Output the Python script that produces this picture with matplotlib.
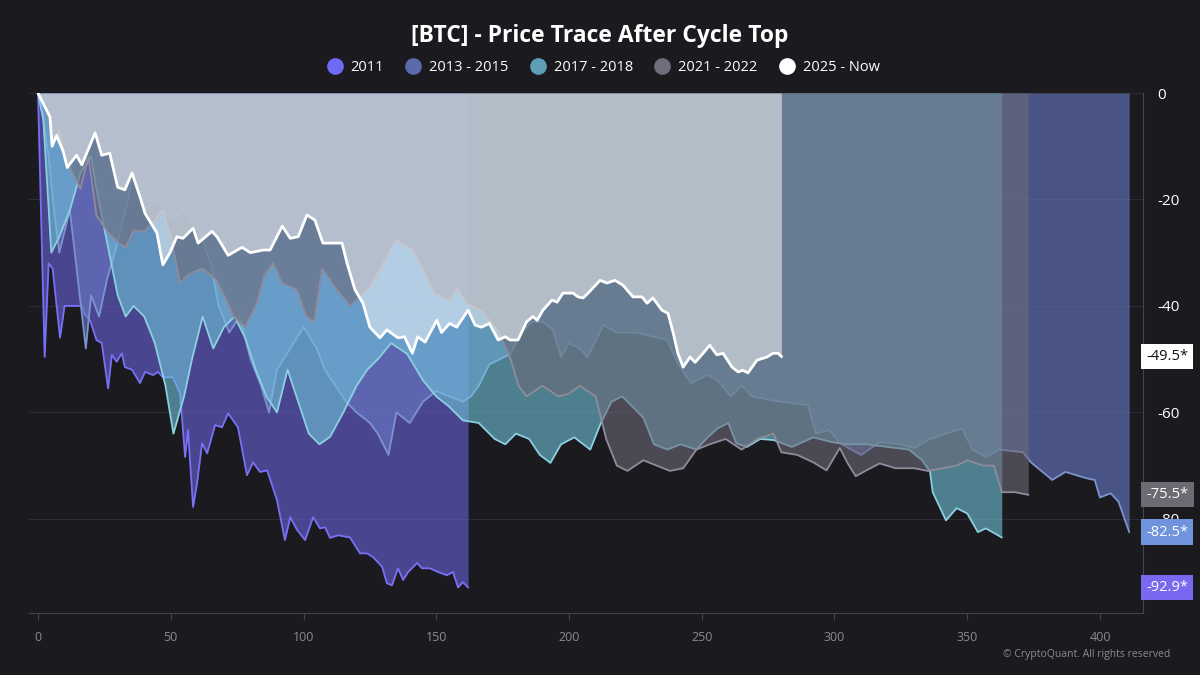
import numpy as np
import matplotlib.pyplot as plt
from matplotlib.lines import Line2D
from matplotlib.transforms import blended_transform_factory

plt.rcParams['font.family'] = ['Open Sans', 'DejaVu Sans']
plt.rcParams['axes.unicode_minus'] = False

# data (day after cycle top, % drawdown)
d2011 = [0, 1, 2.5, 4, 5.5, 7, 8.3, 10, 16.5, 17.7, 19.6, 22, 24, 26.4, 27.8, 29.6, 31.6, 32.7, 35.4, 38.4,
         40.3, 43.3, 45.2, 47, 50.8, 53.5, 55.4, 56.5, 58.4, 59.9, 61.8, 63.7, 66.7, 69.3, 71.6, 75.3, 78.7,
         81, 83.6, 86.3, 90, 93, 95, 97.6, 100.6, 103.6, 106.2, 108.1, 110, 113, 117.5, 121.3, 123.9, 126.2,
         129.6, 131.4, 133.3, 135.6, 137.5, 139.4, 142.8, 144.6, 147.6, 150.7, 154, 156.3, 158.2, 160, 162]
v2011 = [0, -20, -49.6, -32, -33, -40, -46, -40, -40, -41.7, -42.7, -46.4, -47, -55.5, -49.2, -50.5, -48.9, -51.5,
         -52, -54.5, -52.4, -53, -52.4, -53.4, -53.4, -56.4, -68.4, -63.3, -77.8, -73.3, -65.8, -67.7, -62.4,
         -62.8, -60.2, -62.8, -71.8, -69.4, -71.2, -70.9, -76.5, -84, -79.7, -82.1, -84, -79.7, -81.8, -81.6,
         -83.6, -83.1, -83.5, -86.5, -86.5, -87.2, -89, -92.1, -92.5, -89.3, -91.5, -90, -88.3, -89.3, -89.3,
         -90, -90.6, -90, -92.9, -91.9, -92.9]

d2013 = [0, 2, 4, 6, 8, 10, 12, 15, 18, 20, 23, 26, 30, 33, 36, 40, 45, 50, 55, 60, 65, 68, 72, 76, 80, 84, 87,
         90, 95, 100, 105, 108, 112, 116, 120, 125, 128, 132, 135, 140, 145, 150, 155, 160, 163, 166, 170, 174,
         178, 182, 186, 190, 194, 197, 200, 204, 207, 213, 218, 225, 232, 237, 241, 246, 252, 256, 261, 265,
         269, 276, 284, 290, 293, 298, 302, 310, 317, 325, 330, 336, 342, 348, 352, 357, 362, 371, 374, 382,
         387, 395, 398, 400, 404, 407, 411]
v2013 = [0, -5, -12, -22, -30, -26, -22, -35, -48, -38, -42, -35, -28, -22, -15, -22, -20, -24, -22, -25, -32,
         -40, -45, -42, -50, -55, -60, -52, -48, -44, -48, -52, -55, -58, -60, -62, -64, -68, -60, -62, -58,
         -56, -57, -58, -57, -55, -51, -50, -49, -45, -43, -43, -44.5, -49.6, -47, -48, -49.6, -43.6, -45,
         -45, -45.8, -46.4, -50.8, -54.5, -53, -54, -57, -55, -57, -57.7, -58.3, -58.6, -64, -63.3, -65.8,
         -68, -65.6, -66, -66.7, -65, -64, -63, -67, -68.4, -67, -67.5, -69.4, -72.7, -71.2, -72.4, -72.7,
         -76, -75.2, -76.8, -82.5]

d2017 = [0, 2, 5, 8, 12, 16, 20, 22, 26, 30, 33, 36, 40, 44, 48, 51, 55, 58, 62, 66, 70, 74, 78, 82, 86, 90,
         94, 98, 102, 106, 110, 115, 120, 124, 128, 133, 139, 145, 150, 155, 160, 166, 172, 176, 180, 185,
         189, 193, 197, 202, 208, 212, 216, 220, 224, 228, 232, 237, 242, 248, 252, 256, 260, 263, 267, 272,
         277, 284, 292, 299, 305, 312, 320, 328, 333, 336, 337, 342, 346, 350, 354, 357, 363]
v2017 = [0, -5, -30, -27, -22, -15, -12, -18, -28, -38, -42, -40, -42, -47, -55, -64, -57, -50, -42, -48, -44,
         -42, -46, -52, -57, -60, -52, -58, -64, -66, -64.6, -60, -55, -52, -50, -47, -49, -54, -57, -59,
         -61.5, -62, -65, -66, -64, -65, -68, -69.5, -66, -64.7, -67, -62, -58, -57, -59, -61, -66, -67, -66,
         -67, -64.8, -63, -62, -65.8, -66.5, -65, -65.2, -66.5, -64.7, -65.6, -66, -66, -66.5, -67, -69,
         -71.2, -75, -80.3, -78, -79, -82.5, -81.8, -83.5]

d2021 = [0, 3, 6, 8, 10, 13, 16, 19, 22, 26, 30, 33, 36, 40, 44, 47, 50, 53.5, 57, 62, 67, 71, 73.5, 78, 82.5,
         85, 88.5, 92, 97.5, 101, 104, 107, 112.6, 117.5, 122, 125, 130, 135, 141, 145, 149, 155, 158, 161.5,
         167, 173, 178, 181, 184, 190, 196, 200, 204, 210, 214, 218, 222, 228, 233, 238, 243, 248, 253, 259,
         265, 271, 277, 280, 286, 292, 297, 302, 305, 308, 312, 317, 323, 330, 335, 341, 346, 350, 356, 360,
         363, 368, 373]
v2021 = [0, -3, -9, -7, -12, -15, -18, -12, -23, -26, -28, -29, -25.8, -26, -24, -22, -27, -35.7, -34, -33,
         -35, -39, -42, -44, -39.5, -34.6, -32, -35.7, -37, -42, -43, -33, -37, -40, -38, -36.5, -32, -27.6,
         -29.5, -33, -37.6, -39, -36.7, -39.5, -41, -44.5, -50, -55, -57, -55, -57, -56.5, -55, -57, -65, -70,
         -71, -69, -70, -71, -70.5, -67, -66, -65, -67, -65, -64, -67.5, -68, -69.4, -70.9, -66.7, -69.6, -72,
         -70.9, -69.6, -70.5, -70.5, -71, -70.5, -70, -69, -70, -70, -75, -75, -75.5]

d2025 = [0, 4.5, 5.3, 7, 9.5, 11, 14.5, 16.5, 21.5, 24, 27, 30, 32.7, 35.4, 38.4, 40.3, 44.8, 47, 49.7, 52.3,
         54.6, 58.4, 60.3, 65.5, 67.4, 71.6, 76.8, 80, 84.8, 87.4, 92, 95, 98, 101.3, 104.3, 107.3, 110.7,
         114.5, 116.4, 119.4, 122.4, 125, 128.8, 131.4, 135.6, 138, 141, 143, 145.8, 150.2, 152, 155, 157.7,
         162, 164.6, 167, 170, 173.3, 176, 177.8, 180.8, 184, 186.4, 188, 190.2, 193.6, 195.5, 197.7, 201.5,
         203.4, 205.3, 207.2, 211.7, 214.3, 217.3, 220.3, 224.1, 227.5, 229.4, 231.6, 235, 237.3, 239.2, 241,
         243, 245.6, 247.5, 250.5, 253, 255.7, 258, 261.4, 263.7, 265.5, 267.4, 270.8, 274.6, 276.8, 278.7, 280]
v2025 = [0, -4.5, -10, -8, -11, -14, -11.7, -13.5, -7.5, -11.7, -11.3, -17.7, -18.2, -15, -19.5, -22.6, -26.3,
         -32.3, -30, -27, -27.3, -25.4, -28.2, -26, -27, -30.5, -29, -30, -29.5, -29.5, -25, -27.3, -27, -22.9,
         -23.9, -28.2, -28.2, -28.2, -32, -37, -39.5, -44, -46, -44.5, -46, -45.8, -48.9, -45.8, -46.8, -42.7,
         -45, -43.3, -44, -40.8, -43.6, -44, -43.3, -46.4, -45.8, -46.4, -46.4, -43, -42, -42.7, -40.8, -38.9,
         -39.3, -37.6, -37.6, -38.3, -38.5, -37.6, -35.2, -35.7, -35.2, -36.1, -38.3, -38.3, -39.5, -38.5,
         -40.8, -41.4, -45, -48.9, -51.5, -49.6, -50.6, -48.9, -47.4, -49.2, -48.9, -51.5, -52.4, -52.1, -52.6,
         -50.2, -49.6, -48.9, -48.9, -49.5]

names = ["2011", "2013 - 2015", "2017 - 2018", "2021 - 2022", "2025 - Now"]
days = [d2011, d2013, d2017, d2021, d2025]
vals = [v2011, v2013, v2017, v2021, v2025]
legend_colors = ["#6e6af5", "#5b6aa8", "#5f9fb5", "#6e6e7e", "#ffffff"]
fill_colors = ["#6a63db", "#6b7cc8", "#70c4da", "#6c6a79", "#ffffff"]
line_colors = ["#7a70f8", "#7d93d0", "#8ccfe0", "#8e8c9a", "#ffffff"]

end_labels = ["-92.9*", "-82.5*", "-75.5*", "-49.5*"]
end_values = [-92.9, -82.5, -75.5, -49.5]
end_box = ["#7a68f0", "#6f93dd", "#6b6b73", "#ffffff"]
end_text = ["white", "white", "white", "#111111"]

bg = "#1a1a1f"

fig = plt.figure(figsize=(12, 6.75), dpi=100, facecolor=bg)
ax = fig.add_axes([29 / 1200, 1 - 613 / 675, 1114 / 1200, 520 / 675])
ax.set_facecolor(bg)

for i in range(5):
    x = np.array(days[i])
    y = np.array(vals[i])
    ax.fill_between(x, y, 0, color=fill_colors[i], alpha=0.5 if i == 4 else 0.6, lw=0, zorder=2 + i)
    ax.plot(x, y, color=line_colors[i], lw=2 if i == 4 else 1.3, zorder=2.5 + i)

ax.set_xlim(-3.4, 416.2)
ax.set_ylim(-97.7, 0)

ax.set_yticks([0, -20, -40, -60, -80])
ax.yaxis.tick_right()
ax.tick_params(axis="y", length=0, pad=10, labelsize=11, labelcolor="white")
ax.set_xticks(range(0, 401, 50))
ax.tick_params(axis="x", length=5, color="#44444a", labelsize=9, labelcolor="#8a8a90", pad=8)
ax.grid(axis="y", color="#2c2c32", lw=0.8)
ax.set_axisbelow(True)
for s in ["top", "left"]:
    ax.spines[s].set_visible(False)
ax.spines["bottom"].set_color("#44444a")
ax.spines["right"].set_color("#44444a")

# end-of-series value tags (the -82.5 tag sits over the -80 tick, as in the original)
tr = blended_transform_factory(ax.transAxes, ax.transData)
for lab, v, fc, tc in zip(end_labels, end_values, end_box, end_text):
    ax.text(1.003, v, lab, transform=tr, ha="left", va="center", fontsize=10.5, color=tc, zorder=20,
            clip_on=False, bbox=dict(boxstyle="square,pad=0.35", fc=fc, ec="none"))

fig.text(0.5, 0.946, "[BTC] - Price Trace After Cycle Top", ha="center", va="center",
         fontsize=16.5, fontweight="bold", color="white")

handles = [Line2D([], [], ls="", marker="o", markersize=11, markerfacecolor=c, markeredgecolor=c)
           for c in legend_colors]
fig.legend(handles, names, loc="center", bbox_to_anchor=(0.5, 0.9), ncol=5, frameon=False,
           labelcolor="white", fontsize=10.5, handletextpad=0.1, columnspacing=1.0)

fig.text(0.975, 0.03, "© CryptoQuant. All rights reserved", ha="right", va="center",
         fontsize=7.5, color="#8a8a90")

fig.savefig("out.png", dpi=100, facecolor=bg)
